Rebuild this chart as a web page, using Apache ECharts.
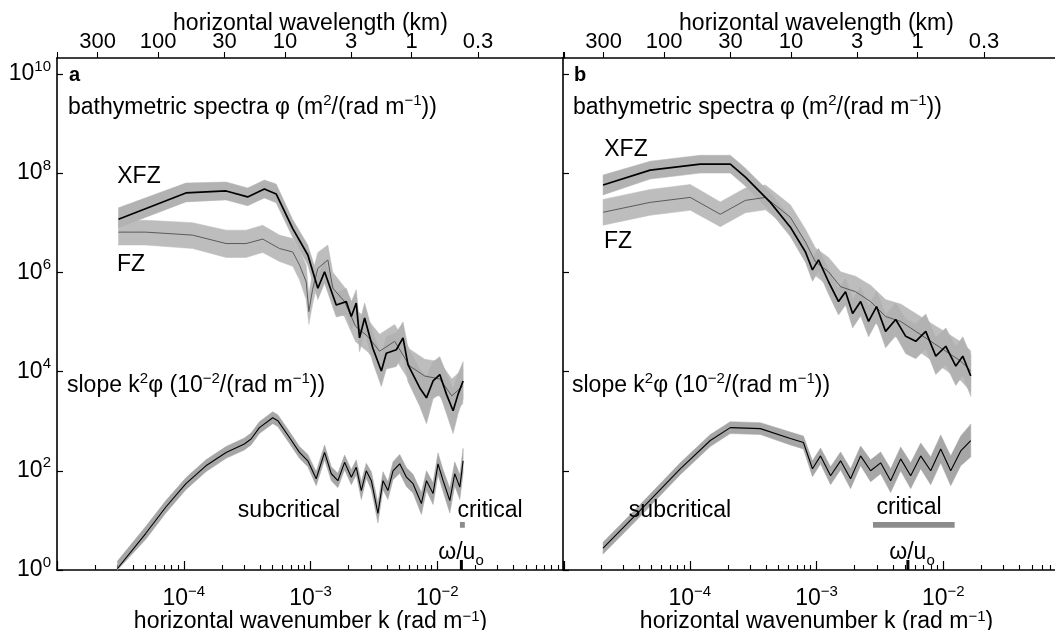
<!DOCTYPE html>
<html><head><meta charset="utf-8">
<script src="https://cdn.jsdelivr.net/npm/echarts/dist/echarts.min.js"></script>
<style>html,body{margin:0;padding:0;background:#fff}#c{width:1055px;height:630px}</style>
</head><body><div id="c"></div><script>
// ---------- axis / tick definitions ----------
const X_MIN = 1e-5, X_MAX = 1e-1;          // horizontal wavenumber k (rad/m)
const Y_LOG_MAX = 10.32;                   // top of the value axis, log10
const xMajorExp = [-5, -4, -3, -2, -1];
const xLabelExp = [-4, -3, -2];
const yLabelExp = [0, 2, 4, 6, 8, 10];
const wavelengthKm = [300, 100, 30, 10, 3, 1, 0.3];
const wavelengthLabels = ['300', '100', '30', '10', '3', '1', '0.3'];

// ---------- panel a (values as log10) ----------
const a_xfz_logk = [-4.515,-3.983,-3.666,-3.496,-3.364,-3.271,-3.140,-3.021,-2.942,-2.889,-2.797,-2.718,-2.678,-2.639,-2.613,-2.573,-2.508,-2.441,-2.402,-2.323,-2.270,-2.231,-2.138,-2.085,-2.033,-1.980,-1.927,-1.875,-1.836,-1.796];
const a_xfz_logphi = [7.07,7.60,7.64,7.52,7.68,7.58,6.88,6.35,5.68,6.01,5.34,5.41,5.11,5.38,4.68,5.08,4.47,4.01,4.37,4.44,4.68,4.14,3.67,3.47,3.81,3.94,3.54,3.21,3.54,3.81];
const a_xfz_lo = [6.90,7.42,7.46,7.34,7.50,7.40,6.70,6.15,5.45,5.78,5.10,5.15,4.85,5.10,4.40,4.80,4.18,3.70,4.05,4.10,4.35,3.80,3.30,2.95,3.45,3.55,3.15,2.75,3.15,3.45];
const a_xfz_hi = [7.30,7.80,7.82,7.70,7.86,7.78,7.06,6.55,5.90,6.25,5.58,5.68,5.40,5.65,4.98,5.38,4.78,4.32,4.70,4.78,5.00,4.48,4.05,3.90,4.20,4.30,3.95,3.65,3.95,4.20];

const a_fz_logk = [-4.515,-4.299,-3.930,-3.666,-3.508,-3.377,-3.245,-3.140,-3.087,-3.034,-3.013,-2.984,-2.942,-2.863,-2.824,-2.731,-2.644,-2.549,-2.455,-2.336,-2.217,-2.099,-1.980,-1.885,-1.798];
const a_fz_logphi = [6.81,6.81,6.75,6.58,6.58,6.67,6.48,6.41,6.15,5.81,5.21,5.65,6.08,6.25,5.68,5.41,4.91,4.71,4.41,4.61,4.11,3.91,3.85,3.51,3.71];
const a_fz_lo = [6.55,6.55,6.48,6.30,6.30,6.40,6.22,6.12,5.85,5.45,4.95,5.35,5.80,5.95,5.35,5.10,4.60,4.40,4.10,4.28,3.80,3.55,3.50,3.15,3.35];
const a_fz_hi = [7.05,7.05,7.00,6.85,6.85,6.95,6.75,6.68,6.45,6.15,5.55,6.00,6.40,6.55,6.00,5.70,5.25,5.05,4.75,4.95,4.45,4.25,4.20,3.85,4.05];

const a_slope_logk = [-4.523,-4.299,-4.141,-3.983,-3.825,-3.666,-3.522,-3.469,-3.403,-3.298,-3.258,-3.166,-3.087,-3.021,-2.955,-2.889,-2.836,-2.784,-2.731,-2.678,-2.639,-2.599,-2.560,-2.520,-2.468,-2.428,-2.389,-2.349,-2.296,-2.243,-2.191,-2.125,-2.085,-2.033,-1.994,-1.954,-1.901,-1.862,-1.822,-1.796];
const a_slope_log = [0.03,0.74,1.27,1.74,2.10,2.37,2.54,2.64,2.87,3.07,3.01,2.67,2.37,2.20,1.84,2.37,1.94,1.80,2.17,1.87,2.07,1.60,2.00,1.80,1.14,1.80,1.60,2.00,2.14,1.87,1.74,1.34,1.80,1.54,2.14,1.80,1.40,1.94,1.67,2.20];
const a_slope_lo = [0.00,0.62,1.15,1.62,1.98,2.25,2.42,2.52,2.75,2.95,2.89,2.55,2.25,2.08,1.70,2.22,1.80,1.66,2.02,1.72,1.92,1.42,1.85,1.62,0.95,1.62,1.42,1.82,1.95,1.68,1.55,1.12,1.60,1.32,1.92,1.58,1.15,1.70,1.42,1.95];
const a_slope_hi = [0.18,0.88,1.40,1.86,2.22,2.49,2.66,2.76,2.99,3.19,3.13,2.79,2.49,2.33,1.98,2.52,2.08,1.95,2.32,2.02,2.22,1.78,2.15,1.98,1.35,1.98,1.78,2.18,2.33,2.06,1.93,1.56,2.00,1.76,2.36,2.02,1.65,2.18,1.92,2.45];

const a_critical_k = [1.51e-2, 1.65e-2];
const a_critical_y = [7.1, 9.3];
const a_omega_k = [1.55e-2];

// ---------- panel b (values as log10) ----------
const b_xfz_logk = [-4.684,-4.312,-3.917,-3.680,-3.561,-3.364,-3.206,-3.087,-3.032,-2.984,-2.905,-2.826,-2.771,-2.715,-2.652,-2.589,-2.526,-2.455,-2.375,-2.296,-2.217,-2.138,-2.059,-1.980,-1.901,-1.846,-1.783];
const b_xfz_logphi = [7.76,8.06,8.18,8.18,7.92,7.41,6.91,6.41,6.05,6.25,5.81,5.41,5.61,5.17,5.41,5.01,5.31,4.81,5.05,4.71,4.61,4.81,4.31,4.51,4.11,4.31,3.91];
const b_xfz_lo = [7.56,7.88,8.00,8.00,7.74,7.22,6.72,6.20,5.82,6.02,5.56,5.14,5.34,4.88,5.12,4.70,5.00,4.48,4.72,4.36,4.26,4.46,3.94,4.14,3.72,3.92,3.50];
const b_xfz_hi = [7.96,8.24,8.36,8.36,8.10,7.60,7.10,6.62,6.28,6.48,6.06,5.68,5.88,5.46,5.70,5.32,5.62,5.14,5.38,5.06,4.96,5.16,4.68,4.88,4.50,4.70,4.32];

const b_fz_logk = [-4.684,-4.312,-3.996,-3.759,-3.561,-3.403,-3.206,-3.087,-3.008,-2.905,-2.810,-2.692,-2.573,-2.455,-2.336,-2.217,-2.099,-1.980,-1.862,-1.783];
const b_fz_logphi = [7.21,7.41,7.51,7.17,7.45,7.51,7.11,6.61,6.21,6.01,5.71,5.61,5.41,5.11,5.01,4.81,4.61,4.41,4.21,4.01];
const b_fz_lo = [6.95,7.15,7.25,6.92,7.20,7.26,6.86,6.35,5.93,5.72,5.41,5.30,5.08,4.77,4.66,4.45,4.24,4.03,3.82,3.60];
const b_fz_hi = [7.47,7.67,7.77,7.42,7.70,7.76,7.36,6.87,6.49,6.30,6.01,5.92,5.74,5.45,5.36,5.17,4.98,4.79,4.60,4.42];

const b_slope_logk = [-4.684,-4.391,-4.075,-3.838,-3.680,-3.443,-3.206,-3.103,-3.032,-2.968,-2.889,-2.810,-2.731,-2.652,-2.573,-2.494,-2.415,-2.336,-2.257,-2.178,-2.099,-2.020,-1.941,-1.862,-1.783];
const b_slope_log = [0.44,1.20,2.04,2.61,2.87,2.85,2.65,2.57,2.04,2.30,1.90,2.20,1.84,2.30,2.00,2.16,1.80,2.24,1.90,2.30,2.00,2.44,2.00,2.40,2.61];
const b_slope_lo = [0.32,1.08,1.92,2.49,2.75,2.73,2.52,2.44,1.88,2.14,1.72,2.02,1.64,2.10,1.78,1.94,1.56,2.00,1.64,2.04,1.72,2.16,1.70,2.10,2.28];
const b_slope_hi = [0.56,1.32,2.16,2.73,2.99,2.97,2.78,2.70,2.20,2.46,2.08,2.38,2.04,2.50,2.22,2.38,2.04,2.48,2.16,2.56,2.28,2.72,2.30,2.70,2.94];

const b_critical_k = [2.79e-3, 1.23e-2];
const b_critical_y = [7.1, 9.3];
const b_omega_k = [5.26e-3];

// ---------- styling ----------
const FONT = '"Liberation Sans", Arial, Helvetica, sans-serif';
const FS = 23, FSS = 15;
const BAND = '#b2b2b2', FZBAND = '#bdbdbd', SLOPEBAND = '#a6a6a6';
const rich = {
  t: {fontSize: FS, fontFamily: FONT, color: '#000', lineHeight: 30},
  b: {fontSize: FS, fontFamily: FONT, color: '#000', lineHeight: 30},
  s: {fontSize: FSS, fontFamily: FONT, color: '#000', lineHeight: 15, verticalAlign: 'top'}
};
const nameRich = {
  t: {fontSize: FS, fontFamily: FONT, color: '#000', lineHeight: 26},
  s: {fontSize: FSS, fontFamily: FONT, color: '#000', lineHeight: 13, verticalAlign: 'top'}
};
const grich = {
  t: {fontSize: FS, fontFamily: FONT, fill: '#000', lineHeight: 30},
  s: {fontSize: FSS, fontFamily: FONT, fill: '#000', lineHeight: 15, verticalAlign: 'top'},
  d: {fontSize: FSS, fontFamily: FONT, fill: '#000', lineHeight: 15, verticalAlign: 'bottom'}
};

const topVals = wavelengthKm.map(l => Math.log10(2 * Math.PI / (l * 1000)));
const minorExp = [];
for (let n = -5; n < -1; n++) for (let m = 2; m <= 9; m++) minorExp.push(n + Math.log10(m));

const pw = v => Math.pow(10, v);
const gridDefs = [
  {left: 57, top: 58, width: 507, height: 512, outerBoundsMode: 'none', containLabel: false},
  {left: 563, top: 58, width: 507, height: 512, outerBoundsMode: 'none', containLabel: false}
];

const xAxes = [], yAxes = [];
const axisLineStyle = {color: '#000', width: 1.6};
[0, 1].forEach(p => {
  xAxes.push({type: 'log', gridIndex: p, min: X_MIN, max: X_MAX, show: false});
  xAxes.push({
    type: 'value', gridIndex: p, min: -5, max: -1, position: 'bottom',
    axisLine: {show: true, lineStyle: axisLineStyle},
    axisTick: {show: true, inside: true, length: 9, customValues: xMajorExp, lineStyle: {color: '#000', width: 1.2}},
    axisLabel: {show: true, customValues: xLabelExp, margin: 14,
      formatter: v => '{b|10}{s|\u2212' + Math.round(-v) + '}', rich: rich},
    splitLine: {show: false},
    name: '{t|horizontal wavenumber k (rad m}{s|\u22121}{t|)}',
    nameLocation: 'middle', nameGap: 39, nameMoveOverlap: false,
    nameTextStyle: {rich: nameRich}
  });
  xAxes.push({
    type: 'value', gridIndex: p, min: -5, max: -1, position: 'bottom',
    axisLine: {show: false},
    axisTick: {show: true, inside: true, length: 5, customValues: minorExp, lineStyle: {color: '#000', width: 1.1}},
    axisLabel: {show: false}, splitLine: {show: false}
  });
  xAxes.push({
    type: 'value', gridIndex: p, min: -5, max: -1, position: 'top',
    axisLine: {show: true, lineStyle: axisLineStyle},
    axisTick: {show: true, inside: false, length: 6, customValues: [-5].concat(topVals, [-1]), lineStyle: {color: '#000', width: 1.1}},
    axisLabel: {show: true, customValues: topVals, margin: 5, fontSize: 22, fontFamily: FONT, color: '#000',
      formatter: v => {
        for (let i = 0; i < topVals.length; i++) if (Math.abs(topVals[i] - v) < 1e-3) return wavelengthLabels[i];
        return '';
      }},
    splitLine: {show: false},
    name: 'horizontal wavelength (km)', nameLocation: 'middle', nameGap: 23, nameMoveOverlap: false,
    nameTextStyle: {fontSize: FS, fontFamily: FONT, color: '#000'}
  });
  yAxes.push({type: 'log', gridIndex: p, min: 1, max: pw(Y_LOG_MAX), show: false});
  yAxes.push({
    type: 'value', gridIndex: p, min: 0, max: Y_LOG_MAX, position: 'left',
    axisLine: {show: true, lineStyle: axisLineStyle},
    axisTick: {show: true, inside: true, length: 6, customValues: yLabelExp, lineStyle: {color: '#000', width: 1.2}},
    axisLabel: {show: p === 0, customValues: yLabelExp, margin: 6,
      formatter: v => '{b|10}{s|' + Math.round(v) + '}', rich: rich},
    splitLine: {show: false}
  });
});

function band(p, logk, lo, hi, color, z) {
  const data = logk.map((v, i) => [pw(v), pw(lo[i]), pw(hi[i])]);
  return {
    type: 'custom', xAxisIndex: 4 * p, yAxisIndex: 2 * p, data: data, z: z, silent: true,
    encode: {x: 0, y: [1, 2]},
    renderItem: (params, api) => {
      if (params.dataIndex !== 0) return null;
      const pts = [];
      for (let i = 0; i < data.length; i++) pts.push(api.coord([data[i][0], data[i][2]]));
      for (let i = data.length - 1; i >= 0; i--) pts.push(api.coord([data[i][0], data[i][1]]));
      return {type: 'polygon', shape: {points: pts}, style: {fill: color, stroke: color, lineWidth: 0.5}};
    }
  };
}
function line(p, logk, logv, color, width, z) {
  return {
    type: 'line', xAxisIndex: 4 * p, yAxisIndex: 2 * p, z: z, silent: true,
    data: logk.map((v, i) => [pw(v), pw(logv[i])]),
    showSymbol: false, symbol: 'none', lineStyle: {color: color, width: width}
  };
}
function critBar(p, kr, yr) {
  return {
    type: 'custom', xAxisIndex: 4 * p, yAxisIndex: 2 * p, z: 5, silent: true,
    data: [[kr[0], kr[1], yr[0], yr[1]]],
    renderItem: (params, api) => {
      const a = api.coord([api.value(0), api.value(3)]);
      const b = api.coord([api.value(1), api.value(2)]);
      return {type: 'rect', shape: {x: a[0], y: a[1], width: Math.max(b[0] - a[0], 4), height: b[1] - a[1]}, style: {fill: '#8c8c8c'}};
    }
  };
}
function omegaMark(p, kArr) {
  return {
    type: 'custom', xAxisIndex: 4 * p, yAxisIndex: 2 * p, z: 6, silent: true,
    data: kArr.map(k => [k, 1]),
    renderItem: (params, api) => {
      const c = api.coord([api.value(0), api.value(1)]);
      return {type: 'rect', shape: {x: c[0] - 1.5, y: c[1] - 10, width: 3, height: 10}, style: {fill: '#000'}};
    }
  };
}

const series = [
  band(0, a_fz_logk, a_fz_lo, a_fz_hi, FZBAND, 1),
  band(0, a_xfz_logk, a_xfz_lo, a_xfz_hi, BAND, 2),
  band(0, a_slope_logk, a_slope_lo, a_slope_hi, SLOPEBAND, 2),
  line(0, a_fz_logk, a_fz_logphi, '#5a5a5a', 1, 3),
  line(0, a_xfz_logk, a_xfz_logphi, '#000', 1.7, 4),
  line(0, a_slope_logk, a_slope_log, '#000', 1.1, 4),
  critBar(0, a_critical_k, a_critical_y),
  omegaMark(0, a_omega_k),
  band(1, b_fz_logk, b_fz_lo, b_fz_hi, FZBAND, 1),
  band(1, b_xfz_logk, b_xfz_lo, b_xfz_hi, BAND, 2),
  band(1, b_slope_logk, b_slope_lo, b_slope_hi, SLOPEBAND, 2),
  line(1, b_fz_logk, b_fz_logphi, '#5a5a5a', 1, 3),
  line(1, b_xfz_logk, b_xfz_logphi, '#000', 1.7, 4),
  line(1, b_slope_logk, b_slope_log, '#000', 1.1, 4),
  critBar(1, b_critical_k, b_critical_y),
  omegaMark(1, b_omega_k)
];

function txt(x, y, text, align, opts) {
  return Object.assign({
    type: 'text', x: x, y: y, z: 20, silent: true,
    style: {text: text, rich: grich, align: align || 'left', verticalAlign: 'middle',
      font: FS + 'px ' + FONT, fill: '#000'}
  }, opts || {});
}
const spectraText = '{t|bathymetric spectra \u03c6 (m}{s|2}{t|/(rad m}{s|\u22121}{t|))}';
const slopeText = '{t|slope k}{s|2}{t|\u03c6 (10}{s|\u22122}{t|/(rad m}{s|\u22121}{t|))}';
const omegaText = '{t|\u03c9/u}{d|o}';
const graphics = [
  {type: 'text', x: 69, y: 75, z: 20, style: {text: 'a', font: 'bold 20px ' + FONT, fill: '#000', verticalAlign: 'middle'}},
  {type: 'text', x: 574, y: 75, z: 20, style: {text: 'b', font: 'bold 20px ' + FONT, fill: '#000', verticalAlign: 'middle'}},
  txt(68, 108, spectraText), txt(573, 108, spectraText),
  txt(139, 177, '{t|XFZ}', 'center'), txt(131, 265, '{t|FZ}', 'center'),
  txt(626, 150, '{t|XFZ}', 'center'), txt(618, 242, '{t|FZ}', 'center'),
  txt(67, 386, slopeText), txt(572, 386, slopeText),
  txt(289, 511, '{t|subcritical}', 'center'), txt(680, 511, '{t|subcritical}', 'center'),
  txt(490, 511, '{t|critical}', 'center'), txt(909, 508, '{t|critical}', 'center'),
  txt(461, 553, omegaText, 'center'), txt(912, 553, omegaText, 'center')
];

const chart = echarts.init(document.getElementById('c'), null, {renderer: 'canvas'});
chart.setOption({
  backgroundColor: '#fff',
  animation: false,
  textStyle: {fontFamily: FONT},
  grid: gridDefs,
  xAxis: xAxes,
  yAxis: yAxes,
  series: series,
  graphic: graphics
});
</script></body></html>
